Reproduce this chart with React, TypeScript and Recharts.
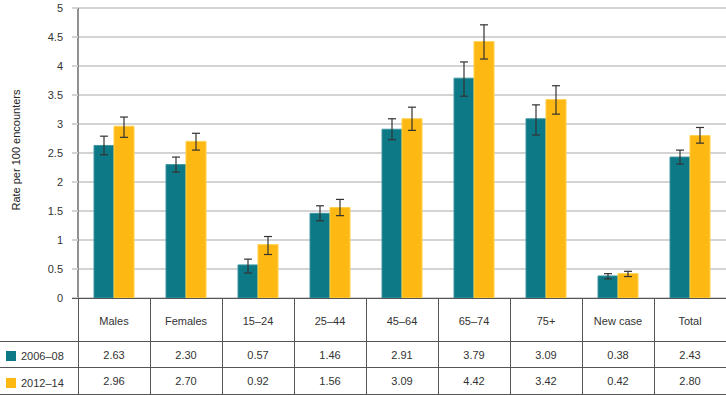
import { BarChart, Bar, XAxis, YAxis, CartesianGrid, ErrorBar } from "recharts";

/* ── data ─────────────────────────────────────────────────────────────── */
const CATEGORIES = ["Males", "Females", "15–24", "25–44", "45–64", "65–74", "75+", "New case", "Total"];
const SERIES_NAMES = ["2006–08", "2012–14"];

const RATE_0608 = [2.63, 2.3, 0.57, 1.46, 2.91, 3.79, 3.09, 0.38, 2.43];
const RATE_1214 = [2.96, 2.7, 0.92, 1.56, 3.09, 4.42, 3.42, 0.42, 2.8];

// 95% CI bounds
const LOW_0608 = [2.47, 2.17, 0.43, 1.33, 2.73, 3.48, 2.81, 0.33, 2.31];
const HIGH_0608 = [2.79, 2.43, 0.67, 1.59, 3.09, 4.07, 3.33, 0.42, 2.55];
const LOW_1214 = [2.77, 2.55, 0.75, 1.42, 2.89, 4.12, 3.17, 0.37, 2.67];
const HIGH_1214 = [3.12, 2.84, 1.06, 1.7, 3.29, 4.71, 3.66, 0.46, 2.94];

const Y_TICKS = [0, 0.5, 1, 1.5, 2, 2.5, 3, 3.5, 4, 4.5, 5];

/* ── tokens ───────────────────────────────────────────────────────────── */
const TEAL = "#0d7986";
const TEAL_EDGE = "#3e96a0";
const GOLD = "#fdb813";
const GOLD_EDGE = "#ffd04a";
const GRID = "#d4d4d4";
const LINE = "#555";
const TEXT = "#333";
const FONT = "'Liberation Sans', Arial, Helvetica, sans-serif";

const W = 726;
const H = 395;
const PLOT_LEFT = 78;
const COL_W = 72;
const AXIS_Y = 298;
const ROW_LINES = [341, 367, 394];

const data = CATEGORIES.map((cat, i) => ({
  cat,
  a: RATE_0608[i],
  b: RATE_1214[i],
  ea: [RATE_0608[i] - LOW_0608[i], HIGH_0608[i] - RATE_0608[i]],
  eb: [RATE_1214[i] - LOW_1214[i], HIGH_1214[i] - RATE_1214[i]],
}));

const cellText: React.CSSProperties = {
  position: "absolute",
  width: COL_W,
  textAlign: "center",
  fontSize: 11,
  color: TEXT,
};

function DataTable() {
  const rows = [
    { top: AXIS_Y, bottom: ROW_LINES[0], values: CATEGORIES },
    { top: ROW_LINES[0], bottom: ROW_LINES[1], values: RATE_0608.map((v) => v.toFixed(2)) },
    { top: ROW_LINES[1], bottom: ROW_LINES[2], values: RATE_1214.map((v) => v.toFixed(2)) },
  ];
  const swatches = [TEAL, GOLD];
  return (
    <>
      {/* top rule (x axis) */}
      <div style={{ position: "absolute", left: 72, top: AXIS_Y - 0.5, width: W - 72, height: 1.3, background: LINE }} />
      {ROW_LINES.map((y) => (
        <div key={y} style={{ position: "absolute", left: 0, top: y - 0.5, width: W, height: 1.3, background: LINE }} />
      ))}
      {CATEGORIES.map((_, i) => (
        <div
          key={i}
          style={{
            position: "absolute",
            left: PLOT_LEFT + i * COL_W - 0.5,
            top: AXIS_Y,
            width: 1.3,
            height: ROW_LINES[2] - AXIS_Y,
            background: LINE,
          }}
        />
      ))}
      {rows.map((r, ri) =>
        r.values.map((v, ci) => (
          <div
            key={`${ri}-${ci}`}
            style={{
              ...cellText,
              left: PLOT_LEFT + ci * COL_W,
              top: r.top,
              height: r.bottom - r.top,
              lineHeight: `${r.bottom - r.top + (ri === 0 ? 4 : 2)}px`,
            }}
          >
            {v}
          </div>
        ))
      )}
      {SERIES_NAMES.map((name, i) => {
        const top = ROW_LINES[i];
        const h = ROW_LINES[i + 1] - top;
        return (
          <div
            key={name}
            style={{ position: "absolute", left: 6, top, height: h, display: "flex", alignItems: "center", paddingTop: 2 }}
          >
            <span style={{ display: "inline-block", width: 10, height: 10, background: swatches[i], marginRight: 5 }} />
            <span style={{ fontSize: 11, color: TEXT }}>{name}</span>
          </div>
        );
      })}
    </>
  );
}

export default function App() {
  return (
    <div style={{ position: "relative", width: W, height: H, background: "#fff", fontFamily: FONT, overflow: "hidden" }}>
      <style>{`body{margin:0}`}</style>
      <div style={{ position: "absolute", left: 0, top: 0 }}>
        <BarChart
          width={W}
          height={312}
          data={data}
          margin={{ top: 8, right: 0, left: 0, bottom: 14 }}
          barCategoryGap={16}
          barGap={0}
        >
          <CartesianGrid horizontal vertical={false} stroke={GRID} strokeWidth={2} />
          <XAxis dataKey="cat" height={0} tick={false} tickLine={false} axisLine={false} />
          <YAxis
            width={PLOT_LEFT}
            domain={[0, 5]}
            ticks={Y_TICKS}
            interval={0}
            axisLine={{ stroke: LINE, strokeWidth: 1.3 }}
            tickLine={{ stroke: GRID, strokeWidth: 2 }}
            tickSize={6}
            tickMargin={9}
            tick={{ fontSize: 11, fill: TEXT, fontFamily: FONT }}
          />
          <Bar dataKey="a" fill={TEAL} stroke={TEAL_EDGE} strokeWidth={1} isAnimationActive={false}>
            <ErrorBar dataKey="ea" width={4} stroke="#333" strokeWidth={1.2} direction="y" />
          </Bar>
          <Bar dataKey="b" fill={GOLD} stroke={GOLD_EDGE} strokeWidth={1} isAnimationActive={false}>
            <ErrorBar dataKey="eb" width={4} stroke="#333" strokeWidth={1.2} direction="y" />
          </Bar>
        </BarChart>
      </div>
      <div
        style={{
          position: "absolute",
          left: 16,
          top: 150,
          transform: "translate(-50%, -50%) rotate(-90deg)",
          whiteSpace: "nowrap",
          fontSize: 11,
          color: "#222",
        }}
      >
        Rate per 100 encounters
      </div>
      <DataTable />
    </div>
  );
}
